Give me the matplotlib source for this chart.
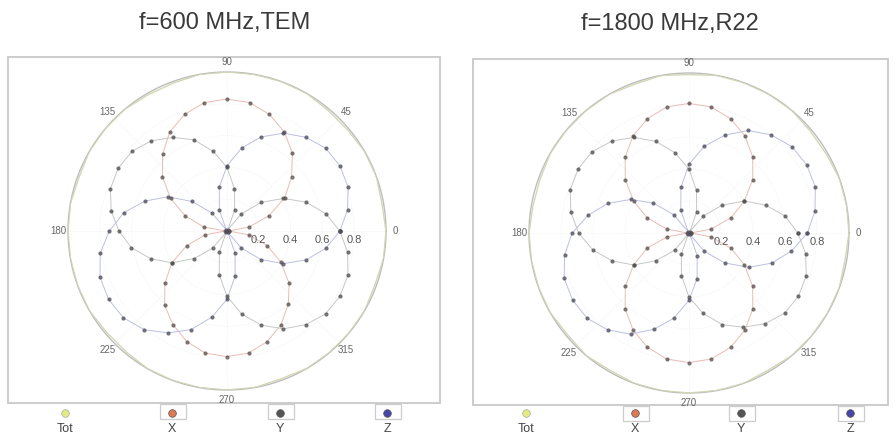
import numpy as np
import matplotlib
matplotlib.use("Agg")
import matplotlib.pyplot as plt
from matplotlib.patches import Rectangle

plt.rcParams['font.family'] = ['Liberation Sans', 'DejaVu Sans']

# ---------------- data ----------------
angles_deg = [0, 10, 20, 30, 40, 50, 60, 70, 80, 90, 100, 110, 120, 130, 140, 150, 160, 170,
              180, 190, 200, 210, 220, 230, 240, 250, 260, 270, 280, 290, 300, 310, 320, 330, 340, 350]

series_names = ['Tot', 'X', 'Y', 'Z']

titles = ['f=600 MHz,TEM', 'f=1800 MHz,R22']

# f = 600 MHz, TEM
tot_600 = [1.00, 0.99, 1.00, 1.00, 0.99, 0.99, 1.00, 1.00, 1.00, 1.00, 1.00, 0.99, 0.99, 1.00, 1.00, 1.00, 0.99, 1.00,
           1.00, 1.00, 1.00, 1.00, 0.99, 0.99, 1.00, 1.00, 1.00, 1.00, 1.00, 0.99, 1.00, 1.00, 1.00, 1.00, 0.99, 1.00]
x_600 = [0.01, 0.14, 0.28, 0.42, 0.53, 0.64, 0.72, 0.78, 0.82, 0.83, 0.82, 0.78, 0.72, 0.63, 0.53, 0.41, 0.28, 0.15,
         0.01, 0.14, 0.27, 0.40, 0.51, 0.61, 0.68, 0.74, 0.78, 0.79, 0.78, 0.74, 0.68, 0.60, 0.51, 0.39, 0.27, 0.14]
y_600 = [0.71, 0.63, 0.53, 0.41, 0.28, 0.14, 0.01, 0.14, 0.27, 0.40, 0.51, 0.61, 0.68, 0.74, 0.78, 0.79, 0.78, 0.74,
         0.68, 0.61, 0.51, 0.40, 0.27, 0.14, 0.01, 0.14, 0.28, 0.41, 0.53, 0.63, 0.71, 0.77, 0.81, 0.82, 0.81, 0.77]
z_600 = [0.71, 0.77, 0.81, 0.82, 0.81, 0.77, 0.71, 0.63, 0.53, 0.41, 0.28, 0.14, 0.01, 0.15, 0.29, 0.43, 0.55, 0.66,
         0.74, 0.81, 0.85, 0.86, 0.85, 0.81, 0.74, 0.66, 0.55, 0.43, 0.29, 0.15, 0.01, 0.14, 0.28, 0.41, 0.53, 0.63]

# f = 1800 MHz, R22
tot_1800 = [1.00, 1.00, 1.00, 0.99, 0.99, 1.00, 1.00, 1.00, 1.00, 0.99, 1.00, 0.99, 1.00, 1.00, 1.00, 1.00, 0.99, 0.99,
            1.00, 1.00, 1.00, 1.00, 0.99, 1.00, 0.99, 1.00, 1.00, 1.00, 1.00, 1.00, 0.99, 1.00, 1.00, 1.00, 1.00, 0.99]
x_1800 = [0.01, 0.14, 0.28, 0.40, 0.52, 0.62, 0.70, 0.76, 0.80, 0.81, 0.80, 0.76, 0.70, 0.62, 0.52, 0.40, 0.28, 0.14,
          0.01, 0.14, 0.28, 0.40, 0.52, 0.62, 0.70, 0.76, 0.80, 0.81, 0.80, 0.76, 0.70, 0.62, 0.52, 0.40, 0.28, 0.14]
y_1800 = [0.68, 0.61, 0.51, 0.40, 0.27, 0.14, 0.01, 0.14, 0.27, 0.40, 0.51, 0.61, 0.69, 0.75, 0.79, 0.80, 0.79, 0.75,
          0.69, 0.61, 0.51, 0.40, 0.27, 0.14, 0.01, 0.14, 0.27, 0.40, 0.51, 0.61, 0.68, 0.74, 0.78, 0.79, 0.78, 0.74]
z_1800 = [0.74, 0.80, 0.84, 0.85, 0.84, 0.80, 0.74, 0.65, 0.55, 0.43, 0.29, 0.15, 0.01, 0.15, 0.29, 0.42, 0.54, 0.64,
          0.73, 0.79, 0.83, 0.84, 0.83, 0.79, 0.73, 0.64, 0.54, 0.42, 0.29, 0.15, 0.01, 0.15, 0.29, 0.43, 0.55, 0.65]

panels = [
    {'Tot': tot_600, 'X': x_600, 'Y': y_600, 'Z': z_600},
    {'Tot': tot_1800, 'X': x_1800, 'Y': y_1800, 'Z': z_1800},
]

r_ticks = [0.2, 0.4, 0.6, 0.8]
r_tick_labels = ['0.2', '0.4', '0.6', '0.8']
theta_label_deg = [0, 45, 90, 135, 180, 225, 270, 315]
theta_labels = ['0', '45', '90', '135', '180', '225', '270', '315']

# ---------------- style ----------------
line_colors = {'Tot': '#d4d6b4', 'X': '#e9bcb4', 'Y': '#c4c8c4', 'Z': '#bcc0e2'}
marker_face = {'Tot': '#d8dc9a', 'X': '#5c5250', 'Y': '#505050', 'Z': '#4e4e5e'}
legend_face = {'Tot': '#e2ea82', 'X': '#e07a55', 'Y': '#555555', 'Z': '#4646a8'}

W, H = 896, 441
fig = plt.figure(figsize=(W / 100, H / 100), dpi=100)
fig.patch.set_facecolor('white')

# overlay for frames, titles, legends (pixel coordinates)
ov = fig.add_axes([0, 0, 1, 1], zorder=0)
ov.set_xlim(0, W)
ov.set_ylim(H, 0)
ov.axis('off')

frames = [(8, 57, 432, 346), (473, 59, 415, 346)]
title_pos = [(225, 23), (670, 24)]
polar_boxes = [(68, 72, 318, 318), (529, 73, 320, 320)]   # left, top, w, h in pixels
legend_x = [[65, 172, 280, 387], [526, 635, 741, 850]]
legend_y = [413, 413]
label_y = [429, 429]

for p in range(2):
    fx, fy, fw, fh = frames[p]
    ov.add_patch(Rectangle((fx, fy), fw, fh, fill=False, edgecolor='#c8c8c8', lw=1.3))
    ov.text(title_pos[p][0], title_pos[p][1], titles[p], ha='center', va='center',
            fontsize=17, color='#3a3a3a')
    for i, name in enumerate(series_names):
        lx = legend_x[p][i]
        if name != 'Tot':
            ov.add_patch(Rectangle((lx - 12, fy + fh + 1), 26, 15, fill=False,
                                   edgecolor='#cccccc', lw=0.9))
        ov.plot([lx], [legend_y[p]], 'o', ms=5.5, mfc=legend_face[name],
                mec='#aaaaaa' if name == 'Tot' else '#555555', mew=0.5)
        ov.text(lx, label_y[p], name, ha='center', va='center', fontsize=9, color='#444444')

theta = np.deg2rad(angles_deg + [angles_deg[0]])

for p in range(2):
    l, t, w, h = polar_boxes[p]
    ax = fig.add_axes([l / W, 1 - (t + h) / H, w / W, h / H], projection='polar', zorder=2)
    ax.set_facecolor('none')
    ax.set_theta_zero_location('E')
    ax.set_theta_direction(1)
    ax.set_ylim(0, 1.0)
    ax.set_thetagrids(theta_label_deg, [''] * len(theta_label_deg))
    ax.set_rgrids(r_ticks, [''] * len(r_ticks))
    ax.grid(True, color='#ececec', lw=0.5, ls=':')
    ax.spines['polar'].set_color('#bdbdbd')
    ax.spines['polar'].set_linewidth(1.0)
    ax.tick_params(length=0)

    data = panels[p]
    for name in series_names:
        vals = data[name] + [data[name][0]]
        if name == 'Tot':
            ax.plot(theta, vals, '-', color=line_colors[name], lw=1.0, zorder=3)
        else:
            ax.plot(theta, vals, '-', color=line_colors[name], lw=0.7, zorder=3)
            ax.plot(theta, vals, 'o', ms=3.0, mfc=marker_face[name], mec=marker_face[name],
                    mew=0, alpha=0.8, zorder=4)

    for a, lab in zip(theta_label_deg, theta_labels):
        ax.text(np.deg2rad(a), 1.06, lab, ha='center', va='center', fontsize=7,
                color='#666666', clip_on=False)
    for r, lab in zip(r_ticks, r_tick_labels):
        ax.annotate(lab, xy=(0, r), xytext=(0, -9), textcoords='offset pixels',
                    ha='center', va='center', fontsize=8, color='#555555')

fig.savefig('out.png', dpi=100, facecolor='white')
